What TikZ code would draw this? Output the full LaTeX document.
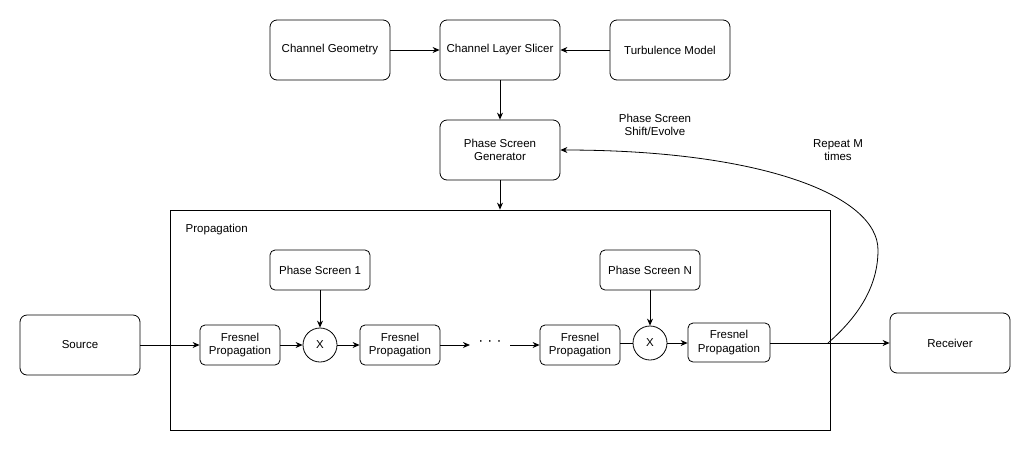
\documentclass[tikz,border=0pt]{standalone}
\usepackage{fontspec}
\setmainfont{Liberation Sans}
\usetikzlibrary{arrows.meta}

\begin{document}
\begin{tikzpicture}[x=1pt, y=-1pt, line width=0.8pt,
    font=\fontsize{11.5}{13.5}\selectfont,
    >={Stealth[length=7pt, width=6pt]},
    bigbox/.style={draw, rounded corners=7pt, minimum width=120pt, minimum height=60pt, align=center},
    smallbox/.style={draw, rounded corners=5pt, minimum width=80pt, minimum height=40pt, align=center},
    screenbox/.style={draw, rounded corners=5pt, minimum width=100pt, minimum height=40pt, align=center},
    mult/.style={draw, circle, minimum size=34pt, inner sep=0pt}]
    \useasboundingbox (0, 0) rectangle (1031, 451);

    % top row
    \node[bigbox] (geom) at (330, 50) {Channel Geometry};
    \node[bigbox] (slicer) at (500, 50) {Channel Layer Slicer};
    \node[bigbox] (turb) at (670, 50) {Turbulence Model};
    \node[bigbox] (gen) at (500, 150) {Phase Screen\\Generator};

    % propagation block
    \node[draw, minimum width=660pt, minimum height=220pt, inner sep=0pt] (prop) at (500, 320) {};
    \node[anchor=west] (proplabel) at (182, 230) {Propagation};

    \node[bigbox] (src) at (80, 345) {Source};
    \node[smallbox] (fr1) at (240, 345) {Fresnel\\Propagation};
    \node[mult] (x1) at (320, 345) {X};
    \node[screenbox] (ps1) at (320, 270) {Phase Screen 1};
    \node[smallbox] (fr2) at (400, 345) {Fresnel\\Propagation};
    \node[inner sep=8pt, font=\fontsize{15}{17}\selectfont] (dots) at (490, 343) {· · ·};
    \node[smallbox] (fr3) at (580, 345) {Fresnel\\Propagation};
    \node[mult] (x2) at (650, 343) {X};
    \node[screenbox] (psn) at (650, 270) {Phase Screen N};
    \node[smallbox, minimum width=82pt, minimum height=39pt] (fr4) at (729, 342.5) {Fresnel\\Propagation};
    \node[bigbox] (rx) at (950, 343) {Receiver};

    \coordinate (split) at (828, 343);
    \coordinate (bend) at (878, 250);

    \draw[->] (geom) -- (slicer);
    \draw[->] (turb) -- (slicer);
    \draw[->] (slicer) -- (gen);
    \draw[->] (gen) -- (prop.north -| gen);

    \draw[->] (src) -- (fr1);
    \draw[->] (fr1) -- (x1);
    \draw[->] (ps1) -- (x1);
    \draw[->] (x1) -- (fr2);
    \draw[->] (fr2) -- (dots.west |- fr2);
    \draw[->] (dots.east |- fr3) -- (fr3);
    \draw (fr3.east |- x2) -- (x2);
    \draw[->] (psn) -- (x2);
    \draw[->] (x2) -- (fr4.west |- x2);
    \draw[->] (fr4.east |- rx) -- (rx);

    % loop back
    \draw[->] (split) .. controls (860, 315) and (878, 285) .. (bend)
        .. controls (878, 195) and (760, 150) .. (gen.east);
    \node[align=center] (shiftlabel) at (655, 125) {Phase Screen\\Shift/Evolve};
    \node[align=center] (repeatlabel) at (838, 150) {Repeat M\\times};
\end{tikzpicture}
\end{document}
